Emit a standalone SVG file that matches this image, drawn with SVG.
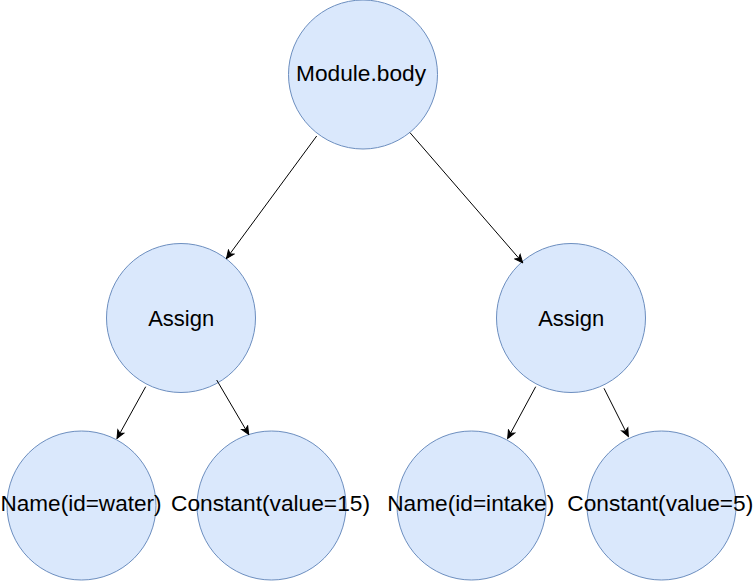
<svg xmlns="http://www.w3.org/2000/svg" width="756" height="581" viewBox="0 0 756 581">
<style>
.n{fill:#dae8fc;stroke:#6c8ebf;stroke-width:1}
.t{font-family:"Liberation Sans",Arial,sans-serif;font-size:22px;fill:#000;text-anchor:middle}
.e{stroke:#000;stroke-width:1;fill:none;marker-end:url(#arr)}
</style>
<defs>
<marker id="arr" markerUnits="userSpaceOnUse" markerWidth="10" markerHeight="10" viewBox="0 0 10 10" refX="9" refY="5" orient="auto">
<path d="M1,1.5 L9,5 L1,8.5 L3,5 Z" fill="#000" stroke="#000" stroke-width="1"/>
</marker>
</defs>
<rect width="756" height="581" fill="#fff"/>
<g id="node-module"><circle class="n" cx="363" cy="74.5" r="74.5"/><text class="t" x="361" y="81" textLength="130" lengthAdjust="spacingAndGlyphs">Module.body</text></g>
<g id="node-assign-left"><circle class="n" cx="181" cy="318" r="74.5"/><text class="t" x="181.2" y="326" textLength="66" lengthAdjust="spacingAndGlyphs">Assign</text></g>
<g id="node-assign-right"><circle class="n" cx="571" cy="318" r="74.5"/><text class="t" x="571.2" y="326" textLength="66" lengthAdjust="spacingAndGlyphs">Assign</text></g>
<g id="node-name-water"><circle class="n" cx="81.5" cy="505.5" r="74.5"/><text class="t" x="81" y="511" textLength="161" lengthAdjust="spacingAndGlyphs">Name(id=water)</text></g>
<g id="node-const-15"><circle class="n" cx="271.5" cy="505.5" r="74.5"/><text class="t" x="270.5" y="511" textLength="199" lengthAdjust="spacingAndGlyphs">Constant(value=15)</text></g>
<g id="node-name-intake"><circle class="n" cx="471.5" cy="505.5" r="74.5"/><text class="t" x="470.7" y="511" textLength="167" lengthAdjust="spacingAndGlyphs">Name(id=intake)</text></g>
<g id="node-const-5"><circle class="n" cx="661.5" cy="505.5" r="74.5"/><text class="t" x="660.3" y="511" textLength="186" lengthAdjust="spacingAndGlyphs">Constant(value=5)</text></g>
<g id="edges">
<line class="e" x1="316.7" y1="136" x2="226.5" y2="258.5"/>
<line class="e" x1="410" y1="132.7" x2="522.7" y2="262.7"/>
<line class="e" x1="145.7" y1="386.7" x2="117" y2="438.5"/>
<line class="e" x1="216.7" y1="380" x2="248.7" y2="434.5"/>
<line class="e" x1="535.7" y1="386.7" x2="507.7" y2="438.5"/>
<line class="e" x1="604" y1="388.3" x2="628.3" y2="436.5"/>
</g>
</svg>
